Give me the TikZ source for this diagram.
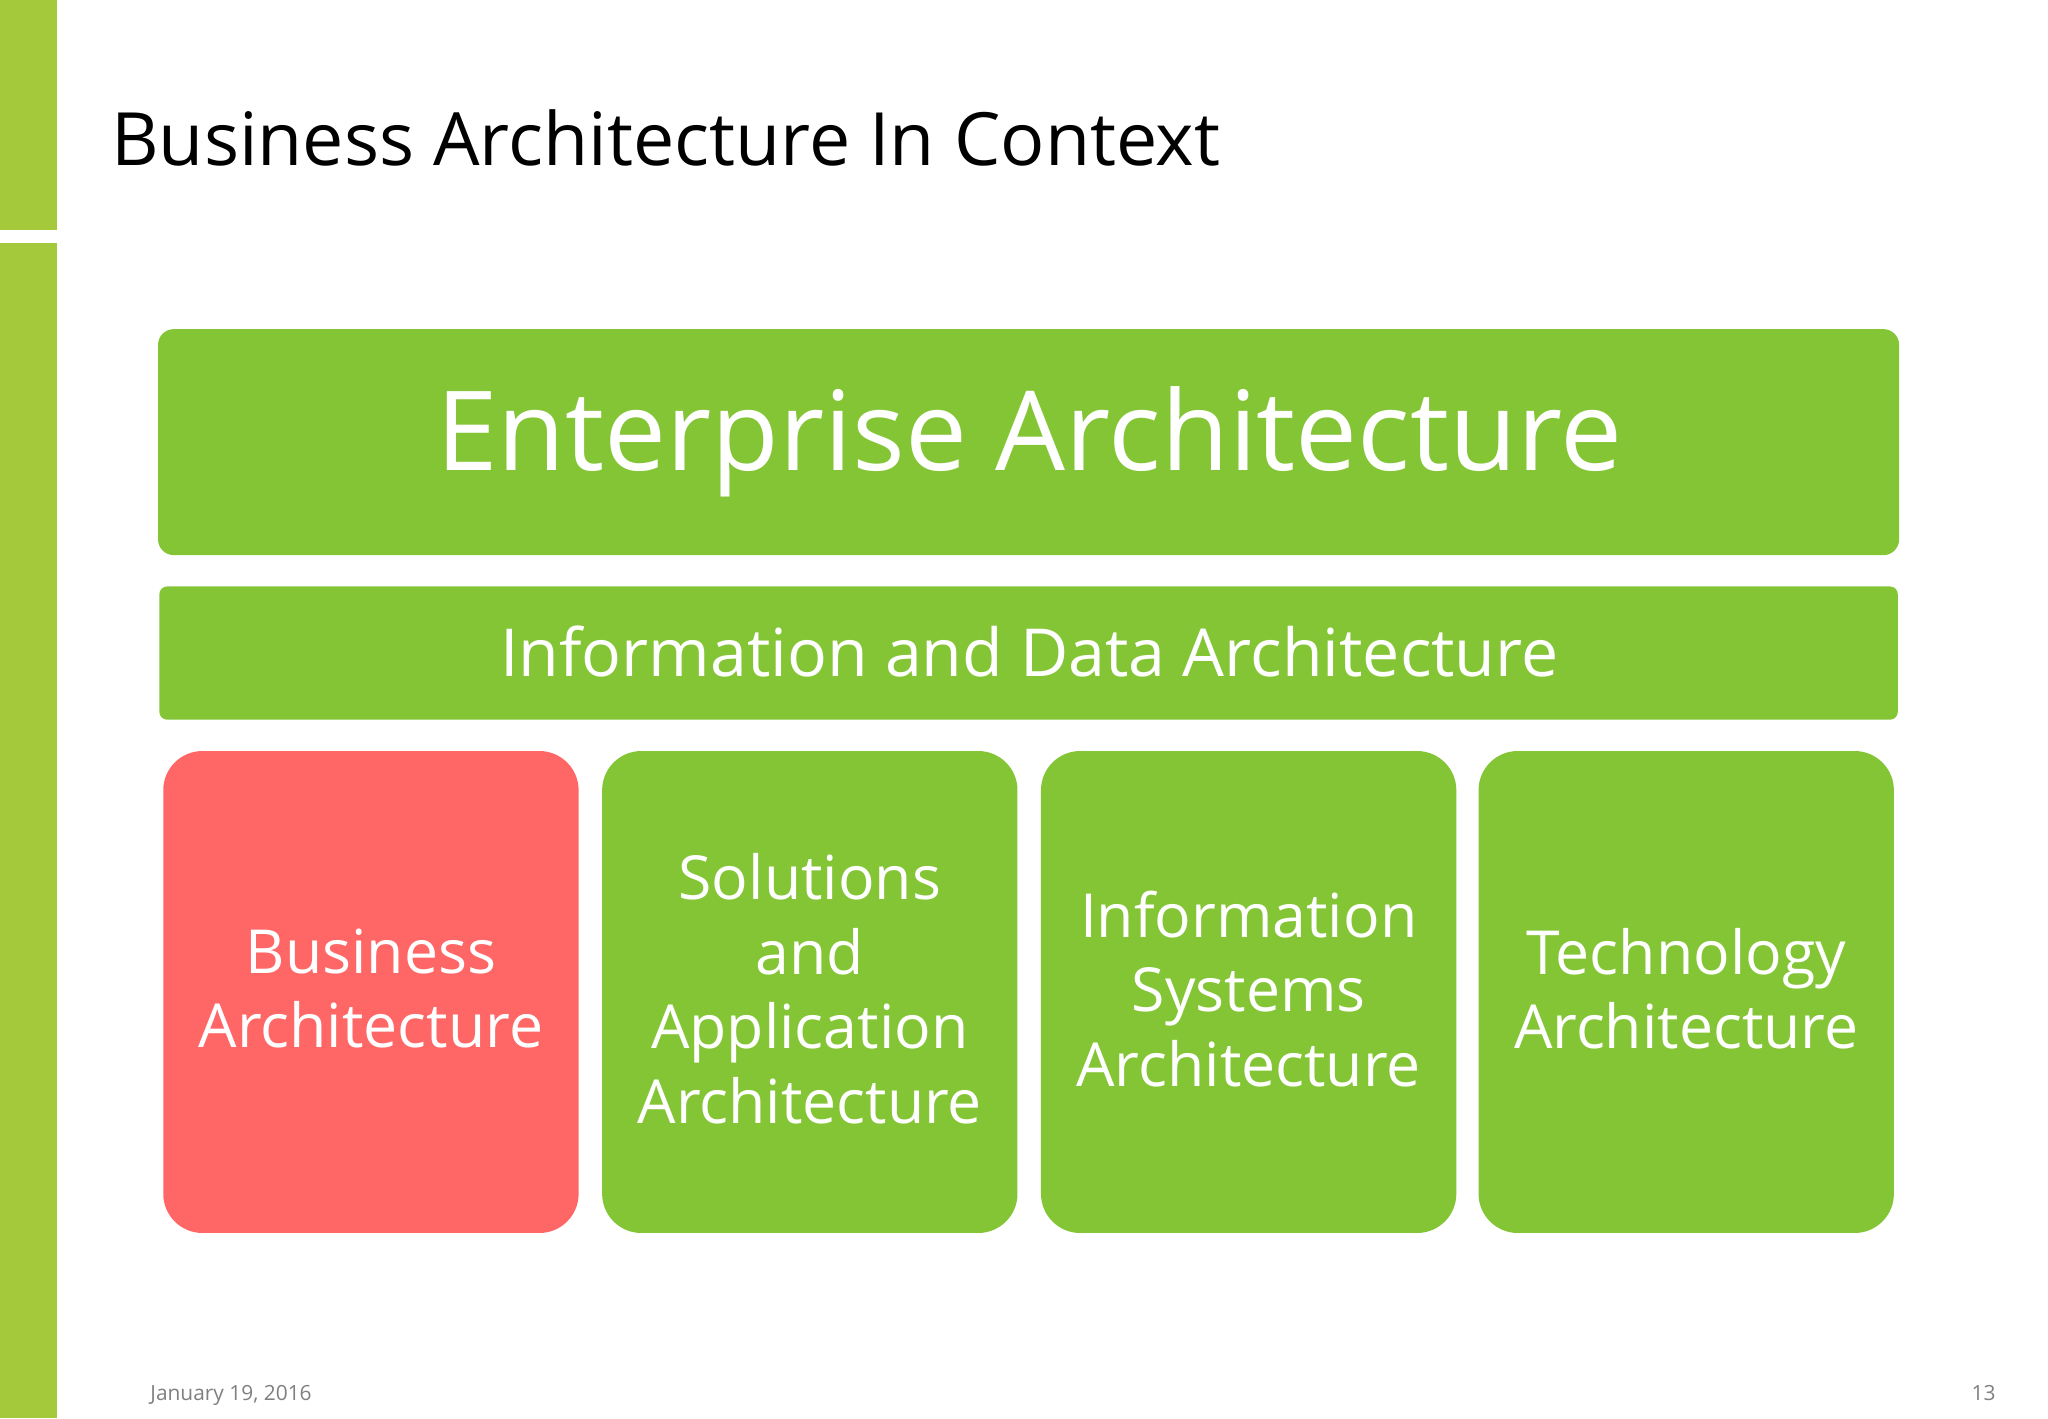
\documentclass[tikz,border=0pt]{standalone}
\usepackage{fontspec}
\setmainfont{Open Sans}
\definecolor{barg}{HTML}{A4C93A}
\definecolor{boxg}{HTML}{84C536}
\definecolor{boxr}{HTML}{FF6666}
\begin{document}
\begin{tikzpicture}[x=1pt,y=-1pt,
  box/.style={fill=boxg,draw=none},
  col/.style={text=white,font=\fontsize{46.5}{57}\selectfont,align=center}]
\useasboundingbox (0,0) rectangle (1568,1086);
\fill[white] (0,0) rectangle (1568,1086);
\fill[barg] (0,0) rectangle (44,176);
\fill[barg] (0,186) rectangle (44,1086);
\node[anchor=base west,font=\fontsize{56.3}{66}\selectfont,inner sep=0] (title) at (85,127) {Business Architecture In Context};
\fill[box,rounded corners=12] (121,252) rectangle (1454,425);
\node[text=white,font=\fontsize{84.6}{95}\selectfont] (ea) at (788,338) {Enterprise Architecture};
\fill[box,rounded corners=6] (122,449) rectangle (1453,551);
\node[text=white,font=\fontsize{50.7}{60}\selectfont] (ida) at (788,499) {Information and Data Architecture};
\fill[boxr,rounded corners=30] (125,575) rectangle (443,944);
\fill[box,rounded corners=30] (461,575) rectangle (779,944);
\fill[box,rounded corners=30] (797,575) rectangle (1115,944);
\fill[box,rounded corners=30] (1132,575) rectangle (1450,944);
\node[col] (ba) at (284,757) {Business\\Architecture};
\node[col] (sa) at (620,757) {Solutions\\and\\Application\\Architecture};
\node[col] (isa) at (956,757) {Information\\Systems\\Architecture};
\node[col] (ta) at (1291,757) {Technology\\Architecture};
\node[anchor=base west,text=gray,font=\fontsize{16}{18}\selectfont,inner sep=0] (date) at (115,1072) {January 19, 2016};
\node[anchor=base east,text=gray,font=\fontsize{16}{18}\selectfont,inner sep=0] (pg) at (1528,1072) {13};
\end{tikzpicture}
\end{document}
